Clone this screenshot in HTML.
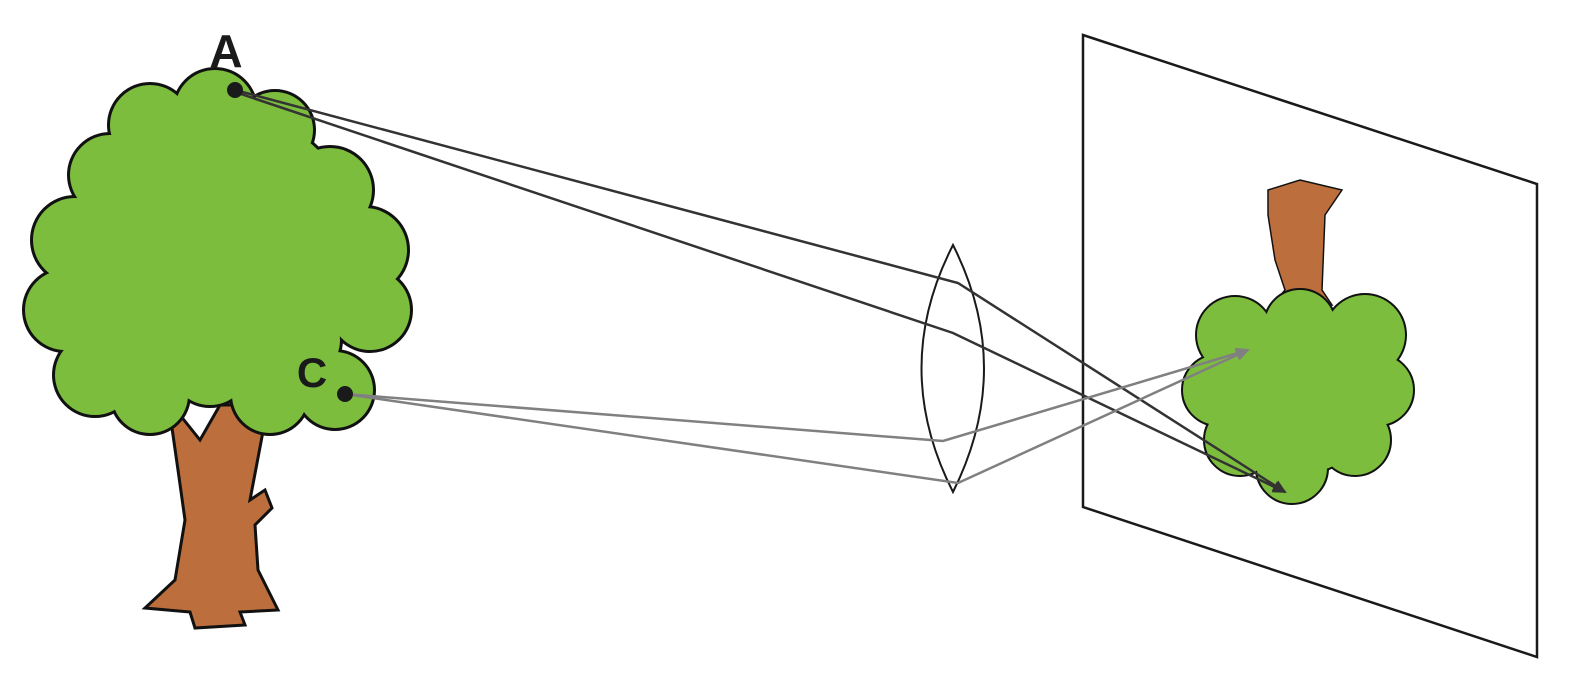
<!DOCTYPE html>
<html><head><meta charset="utf-8"><style>
html,body{margin:0;padding:0;background:#fff;}
svg{display:block;}
text{font-family:"Liberation Sans","DejaVu Sans",sans-serif;font-weight:bold;fill:#1a1a1a;}
</style></head><body>
<svg width="1572" height="675" viewBox="0 0 1572 675" xmlns="http://www.w3.org/2000/svg">
<defs>
<marker id="ad" markerWidth="14" markerHeight="12" refX="12" refY="6" orient="auto" markerUnits="userSpaceOnUse"><path d="M0,0 L14,6 L0,12 z" fill="#333"/></marker>
<marker id="ag" markerWidth="14" markerHeight="12" refX="12" refY="6" orient="auto" markerUnits="userSpaceOnUse"><path d="M0,0 L14,6 L0,12 z" fill="#808080"/></marker>
<g id="c1">
<circle cx="215" cy="110" r="40"/><circle cx="150" cy="125" r="40"/><circle cx="275" cy="130" r="38"/>
<circle cx="110" cy="175" r="40"/><circle cx="330" cy="190" r="42"/><circle cx="75" cy="240" r="42"/>
<circle cx="365" cy="250" r="42"/><circle cx="65" cy="310" r="40"/><circle cx="370" cy="310" r="40"/>
<circle cx="95" cy="375" r="40"/><circle cx="150" cy="395" r="38"/><circle cx="270" cy="395" r="38"/>
<circle cx="335" cy="390" r="38"/><circle cx="210" cy="365" r="40"/><circle cx="220" cy="250" r="140"/>
<circle cx="120" cy="335" r="42"/><circle cx="300" cy="340" r="40"/>
</g>
<g id="c2">
<circle cx="1235" cy="335" r="38"/><circle cx="1300" cy="325" r="35"/><circle cx="1365" cy="335" r="40"/>
<circle cx="1218" cy="390" r="35"/><circle cx="1378" cy="390" r="35"/><circle cx="1240" cy="440" r="35"/>
<circle cx="1355" cy="440" r="35"/><circle cx="1292" cy="468" r="35"/><circle cx="1298" cy="392" r="82"/>
</g>
</defs>
<g>
<polygon points="1083,35 1537,184 1537,657 1083,507" fill="#fff" stroke="#1a1a1a" stroke-width="2.5"/>
</g>
<g>
<path d="M168,400 L200,440 L220,405 L268,405 L250,500 L265,490 L272,508 L255,525 L258,570 L278,610 L240,612 L245,625 L195,628 L190,612 L145,608 L175,580 L185,520 L178,470 Z" fill="#bc6f3c" stroke="#111" stroke-width="3"/>
<use href="#c1" stroke="#111" stroke-width="6" fill="#111"/>
<use href="#c1" fill="#7cbd3e"/>
</g>
<g>
<path d="M1268,190 L1300,180 L1342,190 L1325,215 L1322,290 L1332,305 L1300,300 L1272,305 L1285,290 L1275,260 L1268,215 Z" fill="#bc6f3c" stroke="#111" stroke-width="1.5"/>
<use href="#c2" stroke="#111" stroke-width="4" fill="#111"/>
<use href="#c2" fill="#7cbd3e"/>
</g>
<g>
<path d="M953,245 Q890,368 953,492 Q1015,368 953,245 Z" fill="none" stroke="#1a1a1a" stroke-width="2"/>
</g>
<g fill="none" stroke="#333" stroke-width="2.5">
<polyline points="235,90 958,283 1285,492" marker-end="url(#ad)"/>
<polyline points="235,92 953,333 1285,492" marker-end="url(#ad)"/>
</g>
<g fill="none" stroke="#808080" stroke-width="2.5">
<polyline points="345,394 943,441 1248,350" marker-end="url(#ag)"/>
<polyline points="345,394 958,483 1248,350" marker-end="url(#ag)"/>
</g>
<circle cx="235" cy="90" r="8" fill="#1a1a1a"/>
<circle cx="345" cy="394" r="8" fill="#1a1a1a"/>
<text x="226" y="67" font-size="46" text-anchor="middle">A</text>
<text x="312" y="387" font-size="42" text-anchor="middle">C</text>
</svg>
</body></html>
